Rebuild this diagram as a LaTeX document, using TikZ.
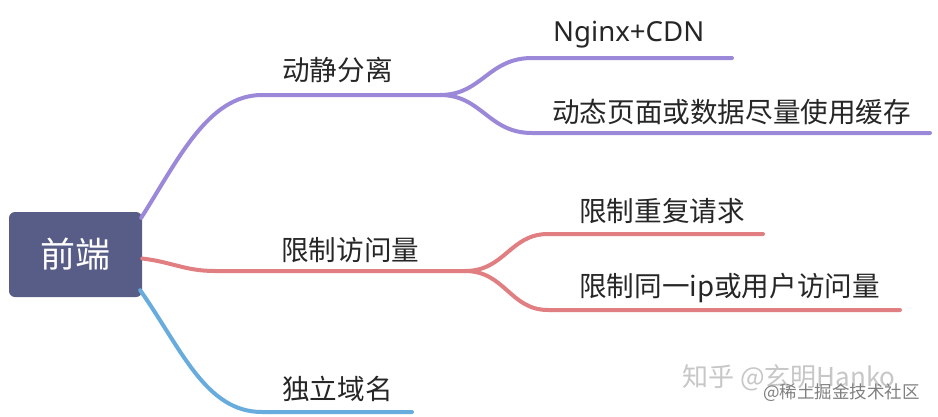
\documentclass[tikz,border=0pt]{standalone}
\usepackage{fontspec}
\setmainfont{Noto Sans CJK SC}
\newfontfamily\latinfont{Noto Sans}
\usetikzlibrary{positioning,calc}
\definecolor{rootblue}{RGB}{88,93,135}
\definecolor{lilac}{RGB}{156,136,216}
\definecolor{rose}{RGB}{224,126,130}
\definecolor{sky}{RGB}{104,172,221}
\tikzset{
  rootbox/.style={fill=rootblue, rounded corners=6pt, minimum width=133pt, minimum height=85pt,
                  text=white, font=\fontsize{35}{40}\selectfont, inner sep=0pt},
  topic/.style={anchor=base west, inner sep=0pt, text=black!85, font=\fontsize{27.6}{32}\selectfont},
  branch/.style={line width=4pt, line cap=round},
  wmark/.style={anchor=base west, inner sep=0pt}
}
\begin{document}
\begin{tikzpicture}[x=1pt, y=-1pt]
  \useasboundingbox[fill=white] (0,0) rectangle (938,416);

  \node[rootbox] (root) at (75.5,254.5) {前端};

  % first level
  \node[topic] (dong) at (282,80) {动静分离};
  \node[topic] (xian) at (281,260) {限制访问量};
  \node[topic] (duli) at (282,399) {独立域名};

  % second level
  \node[topic] (nginx) at (553,41) {\latinfont Nginx+CDN};
  \node[topic] (huan) at (552,122) {动态页面或数据尽量使用缓存};
  \node[topic] (chong) at (579,221) {限制重复请求};
  \node[topic] (tong) at (579,296) {限制同一ip或用户访问量};

  % branch points
  \coordinate (f1) at (440,95);
  \coordinate (f2) at (465,271);
  \coordinate (e1) at (732,58);
  \coordinate (e2) at (930,133);
  \coordinate (e3) at (763,234);
  \coordinate (e4) at (900,310);
  \coordinate (e5) at (412,412);

  \draw[branch, lilac] ($(root.north east)+(-1,6)$) .. controls (178,160) and (208,95) .. (262,95) -- (f1);
  \draw[branch, lilac] (f1) .. controls (482,95) and (488,58) .. (532,58) -- (e1);
  \draw[branch, lilac] (f1) .. controls (482,95) and (488,133) .. (532,133) -- (e2);

  \draw[branch, rose] ($(root.east)+(0,4)$) .. controls (172,262) and (185,271) .. (215,271) -- (f2);
  \draw[branch, rose] (f2) .. controls (505,271) and (510,234) .. (548,234) -- (e3);
  \draw[branch, rose] (f2) .. controls (505,271) and (510,310) .. (548,310) -- (e4);

  \draw[branch, sky] ($(root.south east)+(-2,-7)$) .. controls (182,350) and (206,412) .. (262,412) -- (e5);

  % watermark
  \node[wmark, text=black!22, font=\fontsize{26}{30}\selectfont] (zh) at (682,386) {知乎 @玄明Hanko};
  \node[wmark, text=black!50, font=\fontsize{17.5}{20}\selectfont] (jj) at (763,398) {@稀土掘金技术社区};
\end{tikzpicture}
\end{document}
